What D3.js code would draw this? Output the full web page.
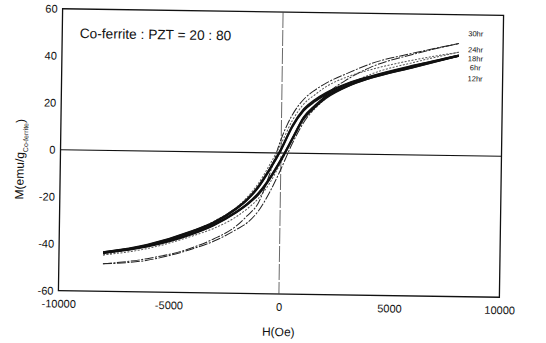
<!DOCTYPE html>
<html>
<head>
<meta charset="utf-8">
<script src="https://cdn.jsdelivr.net/npm/d3@7"></script>
<style>
  body { margin: 0; background: #fff; }
  svg { display: block; font-family: "Liberation Sans", Arial, sans-serif; }
</style>
</head>
<body>
<div id="app"></div>
<script>
// field grid (Oe), shared by every branch
const field = [-8000, -6000, -4000, -3000, -2000, -1500, -1000, -500, 0, 500, 1000, 1500, 2000, 3000, 4000, 6000, 8000];

// descending branch (upper) and ascending branch (lower), M in emu/g
const m30Down = [-48.3, -45.8, -41, -37, -31.5, -27, -21.5, -9, 6, 16.5, 23, 27, 30, 34.5, 38.5, 43.5, 47.7];
const m30Up = [-48.3, -46.5, -41.5, -38, -33, -30, -25, -17, -7, 4, 13, 19.5, 25, 32, 37, 43, 47.7];
const m24Down = [-44.5, -40, -34, -29.5, -23.5, -19, -13, -5, 4, 14, 21, 25, 28.5, 33, 36, 40.5, 44];
const m24Up = [-44.5, -41.5, -36, -32.5, -27.5, -24, -19.5, -13, -4, 6, 13.5, 19, 23.5, 29.5, 34, 39.5, 44];
const m18Down = [-43.5, -40, -34, -30, -24, -20, -14.5, -7, 1.5, 11.5, 18.5, 22.5, 25.5, 30, 33, 38, 42.5];
const m18Up = [-43.5, -40.5, -35, -31, -25.5, -22, -17.5, -11, -3, 6, 15, 20, 24, 29, 32.5, 37.5, 42.5];
const m6Down = [-43.8, -40.3, -34.3, -30.3, -24.3, -20.3, -15, -7.5, 1, 11, 18, 22, 25, 29.5, 32.8, 37.8, 42.3];
const m6Up = [-43.8, -40.8, -35.3, -31.3, -25.8, -22.3, -18, -11.5, -3.5, 5.5, 14.5, 19.5, 23.5, 28.8, 32.3, 37.3, 42.3];
const m12Down = [-43.2, -39.7, -33.7, -29.7, -23.7, -19.7, -14, -6.5, 2, 12, 19, 23, 26, 30.3, 33.3, 38.3, 42.8];
const m12Up = [-43.2, -40.2, -34.7, -30.7, -25.2, -21.7, -17, -10.5, -2.5, 6.5, 15.5, 20.5, 24.5, 29.3, 32.8, 37.8, 42.8];

const seriesNames = ["30hr", "24hr", "18hr", "6hr", "12hr"];
const xTicks = [-10000, -5000, 0, 5000, 10000];
const yTicks = [-60, -40, -20, 0, 20, 40, 60];

const series = [
  { name: "30hr", down: m30Down, up: m30Up, w: 1, dash: "9,1.5,2,1.5", color: "#222" },
  { name: "24hr", down: m24Down, up: m24Up, w: 1, dash: "2,1.5", color: "#555" },
  { name: "18hr", down: m18Down, up: m18Up, w: 1.8, dash: null, color: "#111" },
  { name: "6hr", down: m6Down, up: m6Up, w: 1.3, dash: null, color: "#111" },
  { name: "12hr", down: m12Down, up: m12Up, w: 1.3, dash: null, color: "#111" }
];

const W = 546, H = 343;
const plotLeft = 60.5, plotTop = 12, plotW = 441, plotH = 282;

const svg = d3.select("#app").append("svg").attr("width", W).attr("height", H);

// the scan is tilted a little clockwise
const g = svg.append("g").attr("transform", "rotate(0.85, 281, 153)");

const x = d3.scaleLinear().domain([-10000, 10000]).range([plotLeft, plotLeft + plotW]);
const y = d3.scaleLinear().domain([-60, 60]).range([plotTop + plotH, plotTop]);

g.append("rect")
  .attr("x", plotLeft).attr("y", plotTop)
  .attr("width", plotW).attr("height", plotH)
  .attr("fill", "none").attr("stroke", "#111").attr("stroke-width", 1.3);

g.append("line")
  .attr("x1", x(-10000)).attr("x2", x(10000))
  .attr("y1", y(0)).attr("y2", y(0))
  .attr("stroke", "#111").attr("stroke-width", 1.2);

g.append("line")
  .attr("x1", x(0)).attr("x2", x(0))
  .attr("y1", y(60)).attr("y2", y(-60))
  .attr("stroke", "#444").attr("stroke-width", 0.8)
  .attr("stroke-dasharray", "16,2");

// plain hyphen for negatives, as in the scan
const xAxis = d3.axisBottom(x).tickValues(xTicks).tickSize(0).tickPadding(9).tickFormat((d) => String(d));
const yAxis = d3.axisLeft(y).tickValues(yTicks).tickSize(0).tickPadding(5).tickFormat((d) => String(d));

const gx = g.append("g").attr("transform", `translate(0,${plotTop + plotH})`).call(xAxis);
const gy = g.append("g").attr("transform", `translate(${plotLeft},0)`).call(yAxis);
[gx, gy].forEach((a) => {
  a.select(".domain").remove();
  a.selectAll("text").attr("font-size", 11).attr("fill", "#111")
    .attr("font-family", "'Liberation Sans', Arial, sans-serif");
});

const line = d3.line()
  .x((d) => x(d[0]))
  .y((d) => y(d[1]))
  .curve(d3.curveMonotoneX);

series.forEach((s) => {
  [s.down, s.up].forEach((branch) => {
    g.append("path")
      .datum(field.map((f, i) => [f, branch[i]]))
      .attr("d", line)
      .attr("fill", "none")
      .attr("stroke", s.color)
      .attr("stroke-width", s.w)
      .attr("stroke-dasharray", s.dash);
  });
});

// labels stacked at the right ends of the loops
const legendY = [33.5, 49.5, 58.5, 67.5, 78.5];
g.selectAll(".lab")
  .data(seriesNames)
  .enter()
  .append("text")
  .attr("class", "lab")
  .attr("x", 474)
  .attr("y", (_d, i) => legendY[i])
  .attr("text-anchor", "middle")
  .attr("font-size", 7.5)
  .attr("fill", "#111")
  .text((d) => d);

g.append("text")
  .attr("x", 78).attr("y", 41)
  .attr("font-size", 13.7)
  .attr("fill", "#111")
  .text("Co-ferrite : PZT = 20 : 80");

g.append("text")
  .attr("x", 281).attr("y", 336)
  .attr("text-anchor", "middle")
  .attr("font-size", 12)
  .attr("fill", "#111")
  .text("H(Oe)");

const yl = g.append("text")
  .attr("transform", "translate(24,163) rotate(-90)")
  .attr("text-anchor", "middle")
  .attr("font-size", 12)
  .attr("fill", "#111");
yl.append("tspan").text("M(emu/g");
yl.append("tspan").attr("font-size", 7).attr("dy", 4).text("Co-ferrite");
yl.append("tspan").attr("dy", -4).text(")");
</script>
</body>
</html>
